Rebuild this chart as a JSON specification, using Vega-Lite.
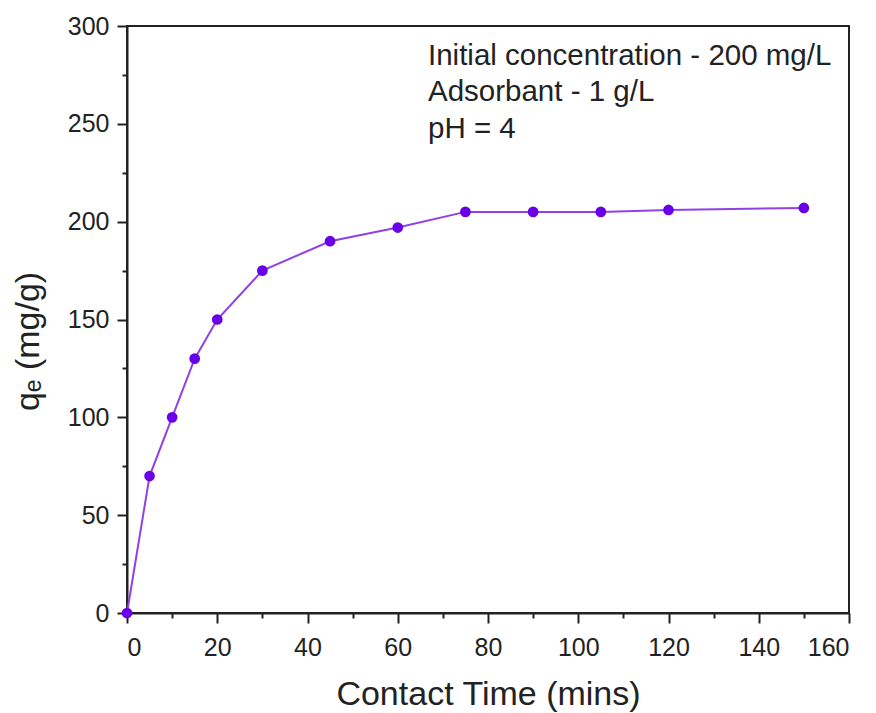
{
  "$schema": "https://vega.github.io/schema/vega-lite/v6.json",
  "autosize": {"type": "none"},
  "width": 722,
  "height": 587,
  "padding": {"left": 127, "top": 26, "right": 27, "bottom": 100},
  "background": "white",
  "config": {
    "font": "Liberation Sans",
    "view": {"stroke": "#222222", "strokeWidth": 2},
    "axis": {
      "grid": false,
      "domainColor": "#222222",
      "domainWidth": 2,
      "tickColor": "#222222",
      "tickWidth": 2,
      "labelFont": "Liberation Sans",
      "labelFontSize": 25,
      "labelColor": "#222222",
      "titleFont": "Liberation Sans",
      "titleFontSize": 34,
      "titleFontWeight": "normal",
      "titleColor": "#222222"
    }
  },
  "datasets": {
    "kinetics": [
      {"t": 0, "q": 0},
      {"t": 5, "q": 70},
      {"t": 10, "q": 100},
      {"t": 15, "q": 130},
      {"t": 20, "q": 150},
      {"t": 30, "q": 175},
      {"t": 45, "q": 190},
      {"t": 60, "q": 197},
      {"t": 75, "q": 205},
      {"t": 90, "q": 205},
      {"t": 105, "q": 205},
      {"t": 120, "q": 206},
      {"t": 150, "q": 207}
    ],
    "notes": [
      {"t": 66.7, "q": 280, "label": "Initial concentration - 200 mg/L"},
      {"t": 66.7, "q": 261.5, "label": "Adsorbant - 1 g/L"},
      {"t": 66.7, "q": 243, "label": "pH = 4"}
    ]
  },
  "layer": [
    {
      "data": {"name": "kinetics"},
      "mark": {"type": "line", "color": "#9040e8", "strokeWidth": 2},
      "encoding": {
        "x": {
          "field": "t", "type": "quantitative",
          "scale": {"domain": [0, 160], "nice": false},
          "axis": {
            "title": "Contact Time (mins)",
            "values": [0, 10, 20, 30, 40, 50, 60, 70, 80, 90, 100, 110, 120, 130, 140, 150, 160],
            "labelExpr": "datum.value % 20 === 0 ? datum.label : ''",
            "tickSize": {"condition": {"test": "datum.value % 20 === 0", "value": 10}, "value": 5},
            "labelPadding": 12,
            "titlePadding": 17
          }
        },
        "y": {
          "field": "q", "type": "quantitative",
          "scale": {"domain": [0, 300], "nice": false},
          "axis": {
            "title": "qₑ (mg/g)",
            "values": [0, 25, 50, 75, 100, 125, 150, 175, 200, 225, 250, 275, 300],
            "labelExpr": "datum.value % 50 === 0 ? datum.label : ''",
            "tickSize": {"condition": {"test": "datum.value % 50 === 0", "value": 10}, "value": 5},
            "labelPadding": 8,
            "titlePadding": 22,
            "titleY": 315
          }
        }
      }
    },
    {
      "data": {"name": "kinetics"},
      "mark": {"type": "point", "filled": true, "shape": "circle", "size": 115, "color": "#6a00e8", "opacity": 1},
      "encoding": {
        "x": {"field": "t", "type": "quantitative"},
        "y": {"field": "q", "type": "quantitative"}
      }
    },
    {
      "data": {"name": "notes"},
      "mark": {"type": "text", "align": "left", "baseline": "alphabetic", "fontSize": 29.5, "font": "Liberation Sans", "color": "#222222"},
      "encoding": {
        "x": {"field": "t", "type": "quantitative"},
        "y": {"field": "q", "type": "quantitative"},
        "text": {"field": "label"}
      }
    }
  ]
}
